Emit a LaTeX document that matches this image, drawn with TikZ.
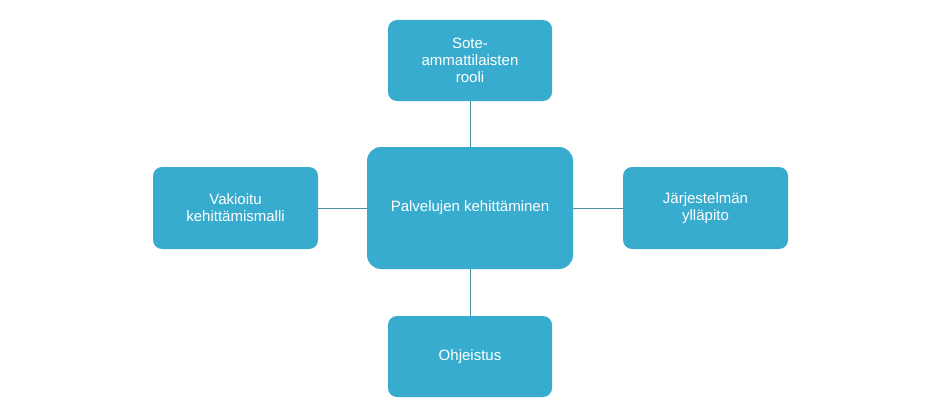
\documentclass[tikz,border=0pt]{standalone}
\usepackage{fontspec}
\setmainfont{Liberation Sans}
\definecolor{boxc}{HTML}{38ACCE}
\definecolor{linec}{HTML}{4F8FA3}
\begin{document}
\begin{tikzpicture}[x=1pt,y=-1pt,
  bx/.style={draw=none,fill=boxc,rounded corners=9pt,text=white,align=center,font=\fontsize{15}{17}\selectfont,inner sep=0pt},
  ln/.style={draw=linec,line width=1pt}]
\useasboundingbox[fill=white] (0,0) rectangle (940,420);
\node[bx,minimum width=206pt,minimum height=122pt,rounded corners=14pt] (c) at (470,208) {Palvelujen kehittäminen};
\node[bx,minimum width=164pt,minimum height=81pt] (t) at (470,60.5) {Sote-\\ammattilaisten\\rooli};
\node[bx,minimum width=164pt,minimum height=81pt] (b) at (470,356.5) {Ohjeistus};
\node[bx,minimum width=165pt,minimum height=82pt] (l) at (235.5,208) {Vakioitu\\kehittämismalli};
\node[bx,minimum width=165pt,minimum height=82pt] (r) at (705.5,208) {Järjestelmän\\ylläpito};
\draw[ln] (c) -- (t);
\draw[ln] (c) -- (b);
\draw[ln] (c) -- (l);
\draw[ln] (c) -- (r);
\end{tikzpicture}
\end{document}
